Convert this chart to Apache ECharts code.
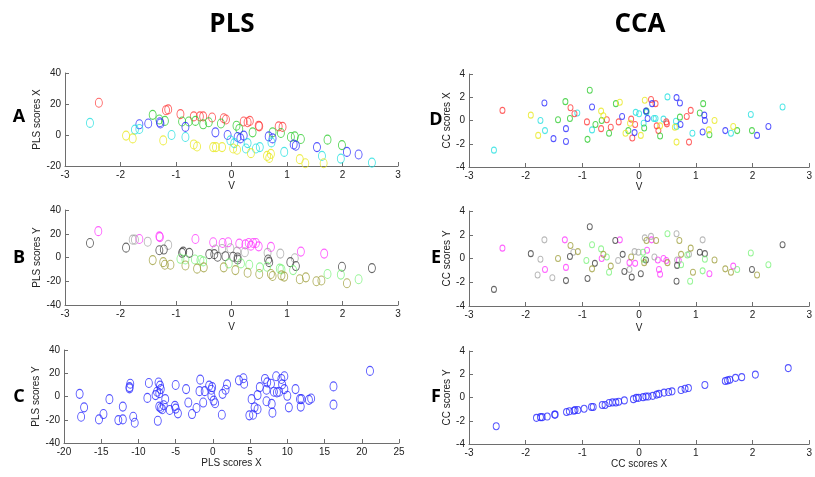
<!DOCTYPE html>
<html><head><meta charset="utf-8">
<script src="https://cdn.jsdelivr.net/npm/echarts@6/dist/echarts.min.js"></script>
<style>html,body{margin:0;padding:0;background:#fff}#c{width:815px;height:477px}</style>
</head><body><div id="c"></div>
<script>
// ---------- Panel A: V vs PLS scores X ----------
const A_red = [[-2.39,20.8],[-1.18,16],[-1.14,16.5],[-0.92,13.5],[-0.68,12],[-0.57,12],[-0.51,12],[-0.35,11.3],[-0.14,10.8],[-0.1,10],[0.22,8.7],[0.29,8.2],[0.33,9.1],[0.49,6],[0.5,5.6],[0.85,5.6],[0.92,5.2]];
const A_green = [[-1.42,13],[-1.3,10],[-1.2,9.1],[-0.89,8.7],[-0.77,8.7],[-0.65,9.1],[-0.51,6.9],[-0.41,8.2],[-0.19,7.4],[0.09,6],[0.14,3.9],[0.38,1.7],[0.74,1.7],[0.89,1.3],[1.07,-1.3],[1.14,-0.9],[1.25,-2.6],[1.73,-3],[1.99,-6.5]];
const A_blue = [[-1.66,6.9],[-1.5,7.4],[-1.29,8.2],[-1.28,7.4],[-0.83,5.2],[-0.29,1.7],[-0.07,0],[0.11,-1.3],[0.16,-2.2],[0.22,-0.4],[0.67,-0.9],[0.74,-2.2],[1.12,-6.1],[1.16,-6.9],[1.54,-7.8],[2.08,-10.9],[2.29,-12.6]];
const A_cyan = [[-2.55,7.8],[-1.74,3.5],[-1.66,3.9],[-1.08,0],[-0.83,-1.3],[-0.02,-3.5],[0.05,-5.2],[0.26,-8.7],[0.29,-5.2],[0.44,-8.7],[0.51,-7.8],[0.72,-4.8],[0.95,-10.9],[1.63,-13.5],[1.97,-15.2],[2.53,-17.8]];
const A_yellow = [[-1.9,-0.4],[-1.78,-2.2],[-1.23,-3.5],[-0.68,-6.1],[-0.62,-7.4],[-0.33,-7.8],[-0.28,-7.8],[-0.17,-7.8],[0.03,-8.7],[0.1,-9.5],[0.35,-11.7],[0.64,-13.5],[0.68,-14.8],[0.71,-12.2],[1.23,-15.6],[1.33,-18.2],[1.66,-18.2]];

// ---------- Panel B: V vs PLS scores Y ----------
const B_magenta = [[-2.4,22.2],[-1.66,15.6],[-1.3,17.8],[-1.29,17.2],[-0.65,15.6],[-0.33,12.8],[-0.16,12.2],[-0.06,12.8],[0.14,11.7],[0.25,11.1],[0.31,12.2],[0.35,10],[0.39,12.2],[0.44,12.2],[0.49,9.4],[0.71,8.9],[1.25,5],[1.67,3.3]];
const B_lightgray = [[-1.78,15],[-1.74,15],[-1.51,13.3],[-1.14,10.6],[-0.29,6.7],[-0.17,7.2],[-0.02,7.8],[0.1,5],[0.24,4.4],[0.65,3.9],[0.88,3.3],[1.14,-0.6]];
const B_dark = [[-2.55,12.2],[-1.9,8.3],[-1.3,6.1],[-1.22,6.7],[-0.89,3.9],[-0.87,5],[-0.76,3.9],[-0.4,2.8],[-0.31,2.8],[-0.25,0.6],[-0.11,1.1],[0.03,0.6],[0.11,0],[0.11,-1.7],[0.66,-1.7],[0.68,-3.9],[1.06,-3.9],[1.16,-7.2],[1.99,-7.8],[2.53,-8.9]];
const B_lightgreen = [[-0.92,-1.1],[-0.83,-1.7],[-0.66,-1.7],[-0.56,-2.2],[-0.51,-3.3],[-0.05,-5],[0.17,-5],[0.32,-6.1],[0.51,-8.3],[0.64,-7.8],[0.87,-9.4],[0.9,-10],[1.11,-10.6],[1.73,-13.9],[1.97,-14.4],[2.29,-18.3]];
const B_olive = [[-1.42,-2.2],[-1.23,-3.9],[-1.2,-6.1],[-1.1,-6.1],[-0.83,-6.7],[-0.62,-9.4],[-0.5,-8.3],[-0.14,-8.3],[0.07,-10.6],[0.29,-12.8],[0.5,-13.9],[0.71,-13.9],[0.74,-15.6],[0.9,-15],[0.95,-16.1],[1.23,-18.3],[1.34,-16.7],[1.53,-20],[1.62,-19.4],[2.08,-21.7]];

// ---------- Panel C: PLS scores X vs PLS scores Y ----------
const C_blue = [[-17.9,2.3],[-17.3,-9.3],[-17.7,-17.4],[-15.3,-19.7],[-14.7,-15.1],[-13.9,-2.3],[-12.7,-20.3],[-12.1,-19.7],[-12.1,-8.7],[-11.2,8.1],[-11.1,11],[-11.2,7],[-10.7,-17.4],[-10.5,-22.6],[-8.8,-1.2],[-8.6,11.6],[-7.7,1.2],[-7.5,4.1],[-7.3,12],[-7.1,9.3],[-7.0,6.4],[-7.2,2.9],[-7.4,-20.9],[-7.2,-8.7],[-7,-9.9],[-6.8,-11],[-6.6,-7.5],[-6.4,-2.3],[-5.8,-11.6],[-5.1,-8.1],[-5,-10.4],[-5,9.9],[-4.7,-14.5],[-3.6,6.4],[-3.3,-5.2],[-2.8,-15.1],[-2.2,-9.9],[-1.8,4.6],[-1.7,14.5],[-1.1,4.6],[-1.3,-5.2],[-0.5,9.3],[-0.2,5.8],[-0.1,8.1],[-0.2,0.6],[0.1,-3.5],[0.3,-5.8],[1.2,-15.7],[1.3,2.3],[1.7,5.8],[1.9,10.4],[3.5,13.9],[4.1,15.7],[4.2,11],[4.9,-16.2],[5.4,-15.7],[5.2,-2.3],[5.6,-9.3],[6,-11],[6,1.2],[6.3,8.1],[7,15.1],[7.3,12.2],[7.2,5.8],[7.2,-4.1],[7.8,11],[7.9,-6.4],[8,-13.9],[8.5,17.4],[8.2,4.1],[8.6,3.5],[8.9,4.1],[9.2,15.1],[9.3,10.4],[9.6,17.4],[9.6,6.4],[10,0.6],[10.2,-9.3],[11.1,6.4],[11.7,-2.3],[11.8,-8.7],[11.9,-2.3],[12.9,-2.9],[13.2,-1.7],[16.2,8.7],[16.2,-7],[21.1,22]];

// ---------- Panel D: V vs CC scores X ----------
const D_cyan = [[-2.56,-2.55],[-1.74,0],[-1.66,-0.87],[-1.09,0.64],[-0.83,-0.81],[-0.06,0.7],[0,0.58],[0.08,-0.23],[0.13,0.7],[0.26,0.17],[0.29,0.17],[0.43,0.12],[0.5,2.03],[0.65,-0.06],[0.66,-0.52],[0.94,-1.1],[1.62,-1.1],[1.97,0.52],[2.53,1.16]];
const D_red = [[-2.41,0.87],[-1.21,1.1],[-1.14,0.58],[-0.92,-0.12],[-0.67,-0.7],[-0.57,0.06],[-0.5,-0.58],[-0.36,-0.12],[-0.14,0.12],[-0.07,-0.35],[-0.12,-1.5],[0.21,1.8],[0.29,1.45],[0.31,-0.46],[0.34,-0.87],[0.48,-0.12],[0.49,-0.29],[0.84,0.35],[0.91,0.87],[0.88,-1.86]];
const D_green = [[-1.43,0.06],[-1.3,1.62],[-1.22,0.17],[-0.87,2.6],[-0.91,-1.62],[-0.77,-0.35],[-0.66,0],[-0.53,-1.1],[-0.41,1.45],[-0.19,-0.87],[0.09,-0.64],[0.13,0.81],[0.37,-1.33],[0.72,0.29],[1.07,0.64],[1.13,1.45],[1.24,-1.22],[1.73,-0.87],[1.99,-0.87]];
const D_blue = [[-1.67,1.5],[-1.51,-1.56],[-1.29,-0.7],[-1.29,-1.8],[-0.83,1.16],[-0.3,0.35],[-0.08,-1.04],[0.12,0.81],[0.15,0.17],[0.23,1.45],[0.66,1.97],[0.72,1.5],[0.73,-0.35],[1.12,-0.99],[1.15,0.46],[1.16,0],[1.52,-0.87],[2.08,-1.28],[2.28,-0.52]];
const D_yellow = [[-1.91,0.46],[-1.78,-1.28],[-0.67,0.81],[-0.63,0.41],[-0.34,1.57],[-0.24,-1.1],[-0.16,-0.23],[0.03,-1.28],[0.1,1.74],[0.37,-0.46],[0.63,-0.58],[0.66,-1.86],[1.23,-0.81],[1.33,0],[1.66,-0.52]];

// ---------- Panel E: V vs CC scores Y ----------
const E_magenta = [[-2.41,0.87],[-1.66,-0.93],[-1.31,1.57],[-1.29,-0.75],[-0.66,0],[-0.34,1.57],[-0.17,-0.35],[-0.07,-0.41],[0.14,0.7],[0.22,1.57],[0.33,-0.12],[0.35,-0.93],[0.37,-1.33],[0.43,0],[0.48,-0.17],[0.7,-0.17],[1.24,-1.28],[1.66,-0.64]];
const E_lightgray = [[-1.67,1.57],[-1.74,-0.06],[-1.79,-1.39],[-1.53,-1.62],[-1.16,0.52],[-0.37,-0.17],[-0.17,-0.93],[-0.08,0.58],[-0.01,0.52],[0.1,1.74],[0.21,1.86],[0.27,0.12],[0.66,2.09],[0.67,-0.12],[0.88,0.35],[1.12,1.57]];
const E_dark = [[-2.56,-2.6],[-1.91,0.41],[-1.29,-1.86],[-1.22,0.17],[-0.91,-1.68],[-0.78,-0.41],[-0.42,1.51],[-0.29,0.35],[-0.26,-1.1],[-0.13,-1.57],[0.03,-1.28],[0.12,-0.12],[0.66,-1.91],[0.67,-0.58],[1.07,0.52],[1.16,0.41],[-0.87,2.67],[1.99,-0.93],[2.53,1.16]];
const E_lightgreen = [[-0.93,-0.17],[-0.83,1.16],[-0.67,0.81],[-0.57,0.12],[-0.53,-1.16],[0.07,0.52],[0.08,-0.06],[0.5,2.09],[0.74,-0.52],[0.85,0.29],[0.9,-1.91],[1.12,-1.04],[1.16,-0.06],[1.73,-0.93],[1.97,0.46],[2.28,-0.52]];
const E_olive = [[-1.43,0],[-1.21,1.1],[-1.08,0.58],[-0.83,-0.87],[-0.63,0.35],[-0.5,-0.64],[-0.14,0.12],[0.13,1.51],[0.3,1.51],[0.5,-0.35],[0.71,1.51],[0.74,0.35],[0.91,0.87],[0.95,-1.16],[1.33,-0.12],[1.52,-0.87],[1.62,-1.16],[2.08,-1.39],[0.09,-0.35]];

// ---------- Panel F: CC scores X vs CC scores Y ----------
const F_blue = [[-2.52,-2.47],[-1.81,-1.75],[-1.74,-1.69],[-1.71,-1.69],[-1.62,-1.64],[-1.49,-1.47],[-1.48,-1.47],[-1.28,-1.25],[-1.23,-1.19],[-1.15,-1.14],[-1.13,-1.08],[-1.08,-1.08],[-0.97,-0.97],[-0.84,-0.81],[-0.81,-0.81],[-0.65,-0.64],[-0.6,-0.64],[-0.53,-0.47],[-0.47,-0.42],[-0.41,-0.42],[-0.36,-0.36],[-0.26,-0.25],[-0.1,-0.14],[-0.05,-0.03],[-0.01,-0.03],[0.07,0.03],[0.12,0.08],[0.16,0.08],[0.24,0.14],[0.31,0.25],[0.35,0.31],[0.44,0.42],[0.52,0.47],[0.58,0.53],[0.74,0.64],[0.81,0.75],[0.87,0.81],[1.16,1.08],[1.52,1.42],[1.56,1.47],[1.6,1.53],[1.7,1.69],[1.81,1.75],[2.05,1.97],[2.63,2.53]];

// tick settings
const vTicks = {min:-3, max:3, interval:1};
const cTicksX = {min:-20, max:25, interval:5};

const chart = echarts.init(document.getElementById('c'), null, {renderer:'canvas'});
const FONT = 'Liberation Sans';
const axisCommon = {
  axisLine:{show:true, onZero:false, lineStyle:{color:'#6e6e6e', width:1}},
  axisTick:{show:true, inside:true, length:4, lineStyle:{color:'#6e6e6e'}},
  axisLabel:{color:'#222', fontSize:10, fontFamily:FONT, margin:4},
  splitLine:{show:false},
  nameTextStyle:{color:'#222', fontSize:10, fontFamily:FONT},
  nameLocation:'middle'
};
const grids = [
  {left:65, top:73, width:333, height:93},
  {left:65, top:210, width:333, height:95},
  {left:64, top:350, width:335, height:93},
  {left:469, top:74, width:344, height:93},
  {left:469, top:211, width:344, height:95},
  {left:469, top:351, width:344, height:93}
];
const xAxes = [
  Object.assign({}, axisCommon, vTicks, {gridIndex:0, type:'value', name:'V', nameGap:15}),
  Object.assign({}, axisCommon, vTicks, {gridIndex:1, type:'value', name:'V', nameGap:17}),
  Object.assign({}, axisCommon, cTicksX, {gridIndex:2, type:'value', name:'PLS scores X', nameGap:13}),
  Object.assign({}, axisCommon, vTicks, {gridIndex:3, type:'value', name:'V', nameGap:15}),
  Object.assign({}, axisCommon, vTicks, {gridIndex:4, type:'value', name:'V', nameGap:17}),
  Object.assign({}, axisCommon, vTicks, {gridIndex:5, type:'value', name:'CC scores X', nameGap:13})
];
const yAxes = [
  Object.assign({}, axisCommon, {gridIndex:0, type:'value', min:-20, max:40, interval:20, name:'PLS scores X', nameGap:18}),
  Object.assign({}, axisCommon, {gridIndex:1, type:'value', min:-40, max:40, interval:20, name:'PLS scores Y', nameGap:18}),
  Object.assign({}, axisCommon, {gridIndex:2, type:'value', min:-40, max:40, interval:20, name:'PLS scores Y', nameGap:18}),
  Object.assign({}, axisCommon, {gridIndex:3, type:'value', min:-4, max:4, interval:2, name:'CC scores X', nameGap:11}),
  Object.assign({}, axisCommon, {gridIndex:4, type:'value', min:-4, max:4, interval:2, name:'CC scores Y', nameGap:11}),
  Object.assign({}, axisCommon, {gridIndex:5, type:'value', min:-4, max:4, interval:2, name:'CC scores Y', nameGap:11})
];
function sc(i, data, color, size){
  return {type:'scatter', xAxisIndex:i, yAxisIndex:i, data:data, symbol:'circle', symbolSize:size,
    itemStyle:{color:'rgba(0,0,0,0)', borderColor:color, borderWidth:1}, silent:true, animation:false};
}
const RED='#ff3b3b', GREEN='#2ecc2e', BLUE='#2a2aff', CYAN='#26e0e0', YEL='#e8e820';
const MAG='#ff3bff', LGRAY='#a8a8a8', DARK='#404040', LGREEN='#7cf27c', OLIVE='#a0a040';
const big=[7,9], small=[5,6], mid=[6,7];
const series = [
  sc(0,A_red,RED,big), sc(0,A_green,GREEN,big), sc(0,A_blue,BLUE,big), sc(0,A_cyan,CYAN,big), sc(0,A_yellow,YEL,big),
  sc(1,B_magenta,MAG,big), sc(1,B_lightgray,LGRAY,big), sc(1,B_dark,DARK,big), sc(1,B_lightgreen,LGREEN,big), sc(1,B_olive,OLIVE,big),
  sc(2,C_blue,BLUE,big),
  sc(3,D_cyan,CYAN,small), sc(3,D_red,RED,small), sc(3,D_green,GREEN,small), sc(3,D_blue,BLUE,small), sc(3,D_yellow,YEL,small),
  sc(4,E_magenta,MAG,small), sc(4,E_lightgray,LGRAY,small), sc(4,E_dark,DARK,small), sc(4,E_lightgreen,LGREEN,small), sc(4,E_olive,OLIVE,small),
  sc(5,F_blue,BLUE,mid)
];
function lbl(x,y,s,size){
  return {type:'text', x:x, y:y, style:{text:s, font:'bold '+size+'px "Open Sans"', fill:'#000', align:'center', verticalAlign:'middle'}};
}
const graphic = [
  lbl(232,25,'PLS',26), lbl(640,25,'CCA',26),
  lbl(19,117,'A',18), lbl(19,258,'B',18), lbl(19,397,'C',18),
  lbl(436,120,'D',18), lbl(436,258,'E',18), lbl(436,397,'F',18)
];
chart.setOption({animation:false, backgroundColor:'#fff', grid:grids, xAxis:xAxes, yAxis:yAxes, series:series, graphic:graphic});
</script></body></html>
